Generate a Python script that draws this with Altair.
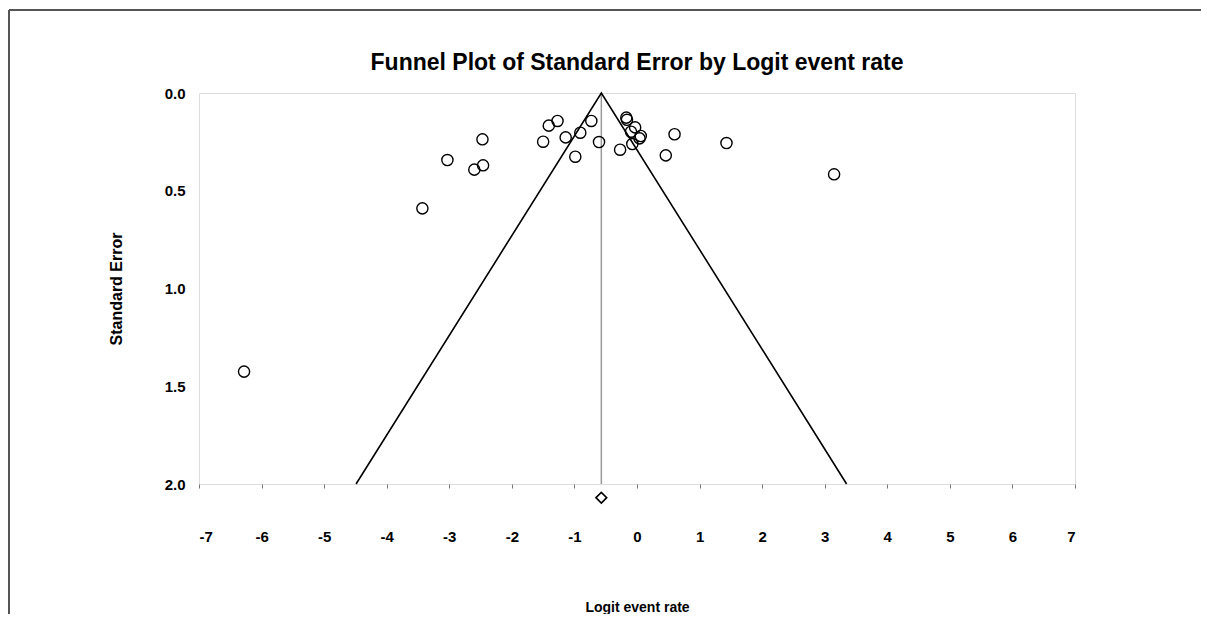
import altair as alt
import pandas as pd

# Study points (Logit event rate, Standard Error)
logit_rate = [-6.28, -3.43, -3.03, -2.60, -2.46, -2.47, -1.50, -1.41, -1.27, -1.14,
              -0.986, -0.906, -0.73, -0.607, -0.27, -0.171, -0.16, -0.096, -0.075,
              -0.03, 0.04, 0.06, 0.46, 0.60, 1.43, 3.15]
std_error = [1.425, 0.59, 0.343, 0.392, 0.370, 0.237, 0.249, 0.167, 0.143, 0.227,
             0.326, 0.203, 0.143, 0.251, 0.29, 0.126, 0.137, 0.198, 0.261,
             0.176, 0.232, 0.22, 0.319, 0.211, 0.256, 0.416]

# Summary effect (diamond) and funnel limits
summary_x = [-0.57]
summary_y = [2.07]
funnel_x = [-4.49, -0.57, 3.35]
funnel_y = [2.0, 0.0, 2.0]
mean_x = [-0.57]
mean_y0 = [0.0]
mean_y1 = [2.0]

x_ticks = [-7, -6, -5, -4, -3, -2, -1, 0, 1, 2, 3, 4, 5, 6, 7]
y_ticks = [0.0, 0.5, 1.0, 1.5, 2.0]

TITLE = "Funnel Plot of Standard Error by Logit event rate"
FONT = "Liberation Sans"

pts = pd.DataFrame({"x": logit_rate, "y": std_error})
summ = pd.DataFrame({"x": summary_x, "y": summary_y})
fun = pd.DataFrame({"x": funnel_x, "y": funnel_y, "o": [0, 1, 2]})
mean_df = pd.DataFrame({"x": mean_x, "y": mean_y0, "y2": mean_y1})

xscale = alt.Scale(domain=[-7, 7], nice=False, zero=False)
yscale = alt.Scale(domain=[0, 2], reverse=True, nice=False, zero=False)

xaxis = alt.Axis(values=x_ticks, labelExpr="'' + datum.value", title="Logit event rate",
                 labelFont=FONT, labelFontSize=15, labelFontWeight="bold",
                 labelColor="black", labelPadding=41,
                 titleFont=FONT, titleFontSize=14, titleFontWeight="bold",
                 titleColor="black", titlePadding=56,
                 domain=False, grid=False, ticks=True, tickSize=4,
                 tickColor="#777777", tickWidth=1)
yaxis = alt.Axis(values=y_ticks, format=".1f", title="Standard Error",
                 labelFont=FONT, labelFontSize=15, labelFontWeight="bold",
                 labelColor="black", labelPadding=14,
                 titleFont=FONT, titleFontSize=16, titleFontWeight="bold",
                 titleColor="black", titlePadding=40,
                 domain=False, grid=False, ticks=False)

mean_rule = alt.Chart(mean_df).mark_rule(color="#999999", strokeWidth=1.5).encode(
    x=alt.X("x:Q", scale=xscale, axis=xaxis),
    y=alt.Y("y:Q", scale=yscale, axis=yaxis),
    y2="y2:Q",
)

funnel = alt.Chart(fun).mark_line(color="black", strokeWidth=1.6).encode(
    x=alt.X("x:Q", scale=xscale),
    y=alt.Y("y:Q", scale=yscale),
    order="o:Q",
)

points = alt.Chart(pts).mark_point(shape="circle", size=125, filled=False,
                                   color="black", strokeWidth=1.4, opacity=1).encode(
    x=alt.X("x:Q", scale=xscale),
    y=alt.Y("y:Q", scale=yscale),
)

diamond = alt.Chart(summ).mark_point(shape="diamond", size=115, filled=False,
                                     color="black", strokeWidth=1.6, clip=False,
                                     opacity=1).encode(
    x=alt.X("x:Q", scale=xscale),
    y=alt.Y("y:Q", scale=yscale),
)

one = pd.DataFrame({"t": [TITLE]})

title_text = alt.Chart(one).mark_text(
    font=FONT, fontSize=23, fontWeight="bold", color="black",
    align="center", baseline="middle", clip=False).encode(
    text="t:N", x=alt.value(438), y=alt.value(-30))

# decorative outer frame (top and left edges of the figure)
frame_top = alt.Chart(one).mark_rule(
    color="#555555", strokeWidth=2, clip=False).encode(
    x=alt.value(-190), x2=alt.value(1020), y=alt.value(-83))
frame_left = alt.Chart(one).mark_rule(
    color="#555555", strokeWidth=2, clip=False).encode(
    x=alt.value(-190), y=alt.value(-83), y2=alt.value(540))

chart = alt.layer(frame_top, frame_left, title_text, mean_rule, funnel, points,
                  diamond).properties(
    width=876,
    height=391,
    autosize=alt.AutoSizeParams(type="none"),
    padding={"left": 191, "top": 85, "right": 126, "bottom": 130},
).configure_view(stroke="#999999", strokeWidth=1.5).configure(background="white")

chart.save("out.html", embed_options={"renderer": "svg", "actions": False})
